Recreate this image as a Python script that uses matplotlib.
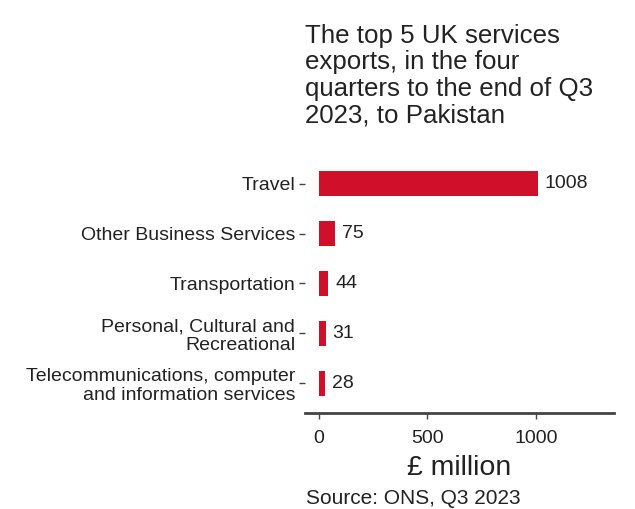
import numpy as np
import matplotlib.pyplot as plt

plt.rcParams['font.family'] = ['Liberation Sans', 'DejaVu Sans']

categories = ['Telecommunications, computer\nand information services',
              'Personal, Cultural and\nRecreational',
              'Transportation',
              'Other Business Services',
              'Travel']
values = [28, 31, 44, 75, 1008]
xticks = [0, 500, 1000]

bar_col = '#d0102b'
txt_col = '#222222'

fig = plt.figure(figsize=(6.35, 5.09), dpi=100)
ax = fig.add_axes([305/635, 1 - 413/509, (614-305)/635, (413-154)/509])

y = np.arange(len(categories))
ax.barh(y, values, height=0.5, color=bar_col)
for yi, v in zip(y, values):
    ax.annotate(str(v), (v, yi), xytext=(5, 0), textcoords='offset points',
                va='center', ha='left', fontsize=14, color=txt_col)

ax.set_yticks(y)
ax.set_yticklabels(categories, fontsize=14, color=txt_col, linespacing=1.12)
ax.set_xticks(xticks)
ax.set_xticklabels([str(t) for t in xticks], fontsize=14, color=txt_col)
ax.set_xlim(-64, 1360)
ax.set_ylim(-0.6, 4.6)

for s in ['top', 'right', 'left']:
    ax.spines[s].set_visible(False)
ax.spines['bottom'].set_color('#444444')
ax.spines['bottom'].set_linewidth(2)
ax.tick_params(axis='y', length=4, width=1, color='#444444', pad=3)
ax.tick_params(axis='x', length=4, width=1, color='#444444', pad=8)

ax.set_xlabel('£ million', fontsize=20.5, color=txt_col, labelpad=6)

fig.text(305/635, 1 - 24/509, 'The top 5 UK services\nexports, in the four\nquarters to the end of Q3\n2023, to Pakistan',
         fontsize=18.6, color=txt_col, ha='left', va='top', linespacing=1.13)
fig.text(306/635, 1 - 498/509, 'Source: ONS, Q3 2023', fontsize=15,
         color=txt_col, ha='left', va='center')

fig.savefig('out.png', dpi=100, facecolor='white')
